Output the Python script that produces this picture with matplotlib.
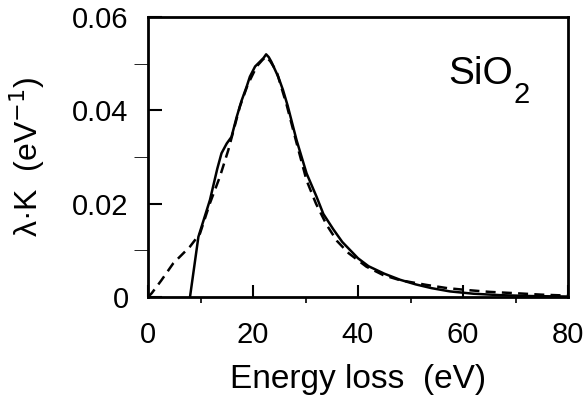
import matplotlib
matplotlib.use('Agg')
import matplotlib.pyplot as plt
from matplotlib.ticker import MultipleLocator, FuncFormatter

plt.rcParams['font.family'] = ['Liberation Sans', 'DejaVu Sans']

# solid curve (measured)
e_solid = [8, 9.6, 11.8, 13.2, 14.0, 15.0, 15.9, 16.9, 17.8, 18.8, 19.4, 20.4, 21.3, 22.0, 22.5,
           23.0, 23.5, 24.8, 25.7, 26.6, 28.3, 30.2, 32.1, 33.4, 35.3, 37, 40, 42, 45, 48, 51,
           54, 57.5, 62, 67, 73, 80]
k_solid = [0, .0129, .0208, .0275, .0308, .0329, .0343, .0386, .0420, .0451, .0472, .0494, .0504,
           .0512, .0520, .0514, .0504, .0472, .0444, .0410, .0336, .0265, .0215, .0178, .0145,
           .0118, .0083, .0066, .0050, .0037, .0027, .0019, .0012, .0007, .0004, .0002, .0001]

# dashed curve (fit)
e_dash = [0, 0.7, 2.5, 4.8, 8, 9.9, 11.8, 13.7, 15.3, 17.5, 19, 20.7, 21.8, 22.5, 23.3, 24.5,
          26.4, 28.3, 30.2, 32, 34, 36, 38.2, 41.6, 44.8, 48, 53, 57, 60.7, 65, 70.2, 75, 80]
k_dash = [0, .0008, .0035, .0072, .0108, .0136, .0201, .0258, .0315, .0408, .0455, .0494, .0508,
          .0515, .0505, .0483, .0412, .0330, .0250, .0200, .0155, .0120, .0094, .0065, .0047,
          .0036, .0026, .0019, .0015, .0011, .0008, .0005, .0003]

fig = plt.figure(figsize=(5.86, 3.99), dpi=100)
ax = fig.add_axes([148 / 586, 1 - 297 / 399, 420 / 586, 280 / 399])

ax.plot(e_solid, k_solid, color='k', lw=1.8, solid_joinstyle='round')
ax.plot(e_dash, k_dash, color='k', lw=1.8, dashes=[4, 2.5])

ax.set_xlim(0, 80)
ax.set_ylim(0, 0.06)
ax.xaxis.set_major_locator(MultipleLocator(20))
ax.xaxis.set_minor_locator(MultipleLocator(10))
ax.yaxis.set_major_locator(MultipleLocator(0.02))
ax.yaxis.set_minor_locator(MultipleLocator(0.01))
ax.yaxis.set_major_formatter(FuncFormatter(lambda v, p: '0' if abs(v) < 1e-9 else '%.2f' % v))
ax.tick_params(direction='in', labelsize=21, width=1.5)
ax.tick_params(axis='x', which='major', length=9, pad=17)
ax.tick_params(axis='x', which='minor', length=4, width=1.2)
ax.tick_params(axis='y', which='both', length=10, pad=14)
for s in ax.spines.values():
    s.set_linewidth(2)

ax.set_xlabel('Energy loss  (eV)', fontsize=24, labelpad=11)
ax.set_ylabel('λ·K  (eV$^{-1}$)', fontsize=23, labelpad=18)

# label: formula with a lowered subscript
ax.text(57.1, 0.0456, 'SiO', fontsize=28, ha='left', va='baseline')
ax.text(69.6, 0.0416, '2', fontsize=21, ha='left', va='baseline')

fig.savefig('out.png', dpi=100)
